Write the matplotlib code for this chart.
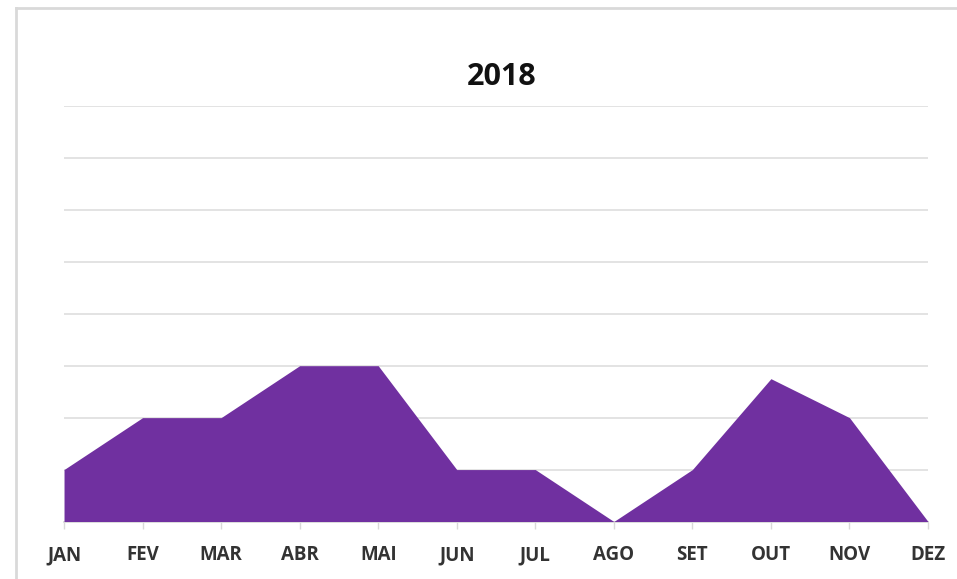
import matplotlib.pyplot as plt
from matplotlib.lines import Line2D

# dados
meses = ['JAN', 'FEV', 'MAR', 'ABR', 'MAI', 'JUN', 'JUL', 'AGO', 'SET', 'OUT', 'NOV', 'DEZ']
valores = [1, 2, 2, 3, 3, 1, 1, 0, 1, 2.75, 2, 0]
titulo = '2018'

plt.rcParams['font.family'] = ['Open Sans', 'DejaVu Sans']

fig = plt.figure(figsize=(9.57, 5.79), dpi=100)
ax = fig.add_axes([0.0669, 0.0993, 0.9028, 0.7176])

x = list(range(len(meses)))
ax.fill_between(x, valores, 0, color='#7030A0', linewidth=0, zorder=3)

ax.set_xlim(0, len(meses) - 1)
ax.set_ylim(0, 8)
ax.set_yticks(range(0, 9))
ax.yaxis.grid(True, color='#e0e0e0', linewidth=1.3, zorder=0)
ax.tick_params(axis='y', left=False, labelleft=False)
ax.set_xticks(x)
ax.set_xticklabels(meses, fontsize=13.5, fontweight='bold', color='#333333')
ax.tick_params(axis='x', length=5, color='#d9d9d9', width=1, pad=12)

for s in ['top', 'right', 'left']:
    ax.spines[s].set_visible(False)
ax.spines['bottom'].set_color('#d9d9d9')
ax.spines['bottom'].set_linewidth(1.3)

fig.text(0.5245, 0.867, titulo, ha='center', va='center', fontsize=22,
         fontweight='bold', color='#111111')

# moldura do print
fig.add_artist(Line2D([15.5 / 957, 1], [1 - 8 / 579, 1 - 8 / 579], transform=fig.transFigure,
                      color='#d9d9d9', linewidth=2))
fig.add_artist(Line2D([15.5 / 957, 15.5 / 957], [0, 1 - 8 / 579], transform=fig.transFigure,
                      color='#d9d9d9', linewidth=2))

fig.savefig('out.png', dpi=100)
